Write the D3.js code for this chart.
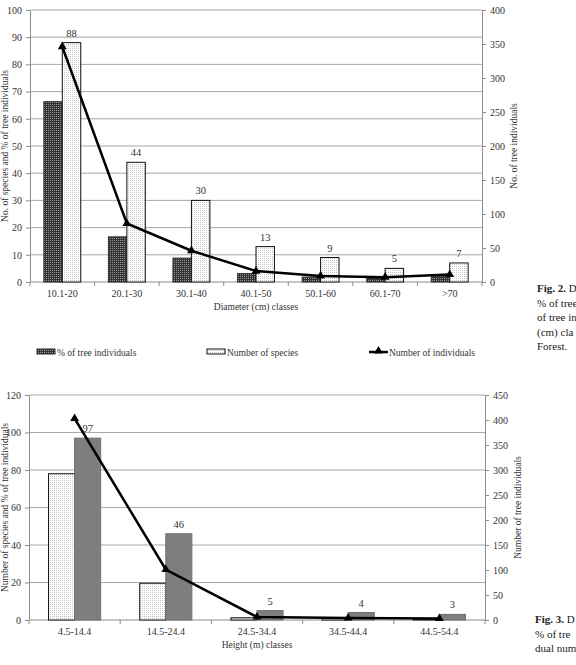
<!DOCTYPE html>
<html>
<head>
<meta charset="utf-8">
<script src="https://cdn.jsdelivr.net/npm/d3@7"></script>
<style>
  body { margin: 0; background: #fff; }
  svg { display: block; }
</style>
</head>
<body>
<div id="chart"></div>
<script>
// Fig. 2 - diameter classes
const diamClasses = ["10.1-20", "20.1-30", "30.1-40", "40.1-50", "50.1-60", "60.1-70", ">70"];
const diamPctTrees = [66.3, 16.6, 8.8, 3.1, 1.8, 1.3, 2.2];
const diamSpecies = [88, 44, 30, 13, 9, 5, 7];
const diamIndividuals = [346, 86, 46, 16, 9, 7, 11];
const diamLeftTicks = [0, 10, 20, 30, 40, 50, 60, 70, 80, 90, 100];
const diamRightTicks = [0, 50, 100, 150, 200, 250, 300, 350, 400];

// Fig. 3 - height classes
const heightClasses = ["4.5-14.4", "14.5-24.4", "24.5-34.4", "34.5-44.4", "44.5-54.4"];
const heightPctTrees = [78, 19.6, 1.2, 0.8, 0.6];
const heightSpecies = [97, 46, 5, 4, 3];
const heightIndividuals = [403, 101, 6, 4, 3];
const heightLeftTicks = [0, 20, 40, 60, 80, 100, 120];
const heightRightTicks = [0, 50, 100, 150, 200, 250, 300, 350, 400, 450];

const legendNames = ["% of tree individuals", "Number of species", "Number of individuals"];

const serif = "'Liberation Serif', 'DejaVu Serif', serif";

const svg = d3.select("#chart").append("svg")
    .attr("width", 576)
    .attr("height", 665);

// patterns for the bars
const defs = svg.append("defs");
const dark = defs.append("pattern").attr("id", "darkcheck")
    .attr("width", 2).attr("height", 2).attr("patternUnits", "userSpaceOnUse");
dark.append("rect").attr("width", 2).attr("height", 2).attr("fill", "#333");
dark.append("rect").attr("width", 1).attr("height", 1).attr("fill", "#9a9a9a");

const dots = defs.append("pattern").attr("id", "lightdots")
    .attr("width", 2).attr("height", 2).attr("patternUnits", "userSpaceOnUse");
dots.append("rect").attr("width", 2).attr("height", 2).attr("fill", "#fff");
dots.append("rect").attr("width", 1).attr("height", 1).attr("fill", "#c4c4c4");

const grey = "#8c8c8c";

function drawPanel(o) {
    const x = d3.scaleBand().domain(o.classes).range([o.left, o.right]);
    const xs = d3.scaleBand().domain([0, 1]).range([0, x.bandwidth()]).paddingOuter(0.75);
    const yL = d3.scaleLinear().domain([0, d3.max(o.leftTicks)]).range([o.bottom, o.top]);
    const yR = d3.scaleLinear().domain([0, d3.max(o.rightTicks)]).range([o.bottom, o.top]);

    const g = svg.append("g");

    // gridlines
    g.selectAll("line.grid")
        .data(o.leftTicks.filter(t => t > 0))
        .enter().append("line")
        .attr("x1", o.left).attr("x2", o.right)
        .attr("y1", d => yL(d)).attr("y2", d => yL(d))
        .attr("stroke", "#a8a8a8").attr("stroke-width", 1);

    // left axis
    const la = g.append("g")
        .attr("transform", `translate(${o.left},0)`)
        .call(d3.axisLeft(yL).tickValues(o.leftTicks).tickSize(4).tickSizeOuter(0).tickPadding(4));
    // right axis
    const ra = g.append("g")
        .attr("transform", `translate(${o.right},0)`)
        .call(d3.axisRight(yR).tickValues(o.rightTicks).tickSize(4).tickSizeOuter(0).tickPadding(4));
    // bottom axis, ticks between classes
    const bounds = o.classes.map(c => x(c)).concat([o.right]);
    g.append("line")
        .attr("x1", o.left).attr("x2", o.right)
        .attr("y1", o.bottom).attr("y2", o.bottom)
        .attr("stroke", grey);
    g.selectAll("line.xt")
        .data(bounds)
        .enter().append("line")
        .attr("x1", d => d).attr("x2", d => d)
        .attr("y1", o.bottom).attr("y2", o.bottom + 4)
        .attr("stroke", grey);
    g.selectAll("text.xl")
        .data(o.classes)
        .enter().append("text")
        .attr("x", d => x(d) + x.bandwidth() / 2)
        .attr("y", o.bottom + 15)
        .attr("text-anchor", "middle")
        .style("font-size", "10px")
        .style("fill", "#333")
        .text(d => d);

    [la, ra].forEach(a => {
        a.attr("font-family", null);
        a.select(".domain").attr("stroke", grey);
        a.selectAll(".tick line").attr("stroke", grey);
        a.selectAll(".tick text")
            .style("font-size", "10px")
            .style("fill", "#333");
    });

    // bars: % of trees (first), species (second)
    g.selectAll("rect.pct")
        .data(o.pct)
        .enter().append("rect")
        .attr("x", (d, i) => x(o.classes[i]) + xs(0))
        .attr("width", xs.bandwidth())
        .attr("y", d => yL(d))
        .attr("height", d => o.bottom - yL(d))
        .attr("fill", o.pctFill)
        .attr("stroke", o.pctStroke)
        .attr("stroke-width", 1);

    g.selectAll("rect.sp")
        .data(o.species)
        .enter().append("rect")
        .attr("x", (d, i) => x(o.classes[i]) + xs(1))
        .attr("width", xs.bandwidth())
        .attr("y", d => yL(d))
        .attr("height", d => o.bottom - yL(d))
        .attr("fill", o.spFill)
        .attr("stroke", o.spStroke)
        .attr("stroke-width", 1);

    // value labels over species bars
    g.selectAll("text.val")
        .data(o.species)
        .enter().append("text")
        .attr("x", (d, i) => x(o.classes[i]) + xs(1) + xs.bandwidth() / 2)
        .attr("y", d => yL(d) - 6)
        .attr("text-anchor", "middle")
        .style("font-size", "10.5px")
        .style("fill", "#333")
        .text(d => d);

    // individuals line
    const line = d3.line()
        .x((d, i) => x(o.classes[i]) + x.bandwidth() / 2)
        .y(d => yR(d));
    g.append("path")
        .datum(o.indiv)
        .attr("fill", "none")
        .attr("stroke", "#000")
        .attr("stroke-width", 2.5)
        .attr("d", line);
    g.selectAll("path.tri")
        .data(o.indiv)
        .enter().append("path")
        .attr("transform", (d, i) => `translate(${x(o.classes[i]) + x.bandwidth() / 2},${yR(d)})`)
        .attr("d", d3.symbol(d3.symbolTriangle, 34))
        .attr("fill", "#000");

    // axis titles
    g.append("text")
        .attr("x", (o.left + o.right) / 2)
        .attr("y", o.bottom + 28)
        .attr("text-anchor", "middle")
        .style("font-size", "9.5px")
        .style("fill", "#333")
        .text(o.xTitle);
    g.append("text")
        .attr("transform", `translate(8,${(o.top + o.bottom) / 2}) rotate(-90)`)
        .attr("text-anchor", "middle")
        .style("font-size", "9.5px")
        .style("fill", "#333")
        .text(o.leftTitle);
    g.append("text")
        .attr("transform", `translate(${o.rightTitleX},${(o.top + o.bottom) / 2}) rotate(-90)`)
        .attr("text-anchor", "middle")
        .style("font-size", "9.5px")
        .style("fill", "#333")
        .text(o.rightTitle);
}

drawPanel({
    classes: diamClasses, pct: diamPctTrees, species: diamSpecies, indiv: diamIndividuals,
    leftTicks: diamLeftTicks, rightTicks: diamRightTicks,
    left: 30, right: 482, top: 10, bottom: 282,
    pctFill: "url(#darkcheck)", pctStroke: "#333",
    spFill: "url(#lightdots)", spStroke: "#111",
    xTitle: "Diameter (cm) classes",
    leftTitle: "No. of species and % of tree individuals",
    rightTitle: "No. of tree individuals", rightTitleX: 517
});

drawPanel({
    classes: heightClasses, pct: heightPctTrees, species: heightSpecies, indiv: heightIndividuals,
    leftTicks: heightLeftTicks, rightTicks: heightRightTicks,
    left: 29, right: 485, top: 395, bottom: 620,
    pctFill: "url(#lightdots)", pctStroke: "#111",
    spFill: "#7e7e7e", spStroke: "#707070",
    xTitle: "Height (m) classes",
    leftTitle: "Number of species and % of tree individuals",
    rightTitle: "Number of tree individuals", rightTitleX: 521
});

// legend of Fig. 2
const legend = svg.append("g").style("font-size", "9.5px").style("fill", "#333");
legend.append("rect").attr("x", 37).attr("y", 349).attr("width", 18).attr("height", 5)
    .attr("fill", "url(#darkcheck)").attr("stroke", "#333");
legend.append("text").attr("x", 57).attr("y", 356).text(legendNames[0]);
legend.append("rect").attr("x", 207).attr("y", 349).attr("width", 18).attr("height", 5)
    .attr("fill", "url(#lightdots)").attr("stroke", "#111");
legend.append("text").attr("x", 227).attr("y", 356).text(legendNames[1]);
legend.append("line").attr("x1", 369).attr("x2", 388).attr("y1", 352).attr("y2", 352)
    .attr("stroke", "#000").attr("stroke-width", 2.5);
legend.append("path").attr("transform", "translate(378.5,351)")
    .attr("d", d3.symbol(d3.symbolTriangle, 34)).attr("fill", "#000");
legend.append("text").attr("x", 389).attr("y", 356).text(legendNames[2]);

// captions at the right, only the part visible on the page
function caption(lines, x, y0) {
    const t = svg.append("g").style("font-size", "11px").style("fill", "#222");
    lines.forEach((l, i) => {
        const tx = t.append("text").attr("x", x).attr("y", y0 + i * 14.5);
        if (i === 0) {
            tx.append("tspan").style("font-weight", "bold").text(l[0]);
            tx.append("tspan").text(l[1]);
        } else {
            tx.text(l);
        }
    });
}
caption([["Fig. 2. ", "D"], "% of tree", "of tree in", "(cm) cla", "Forest."], 537, 292);
caption([["Fig. 3. ", "D"], "% of tre", "dual num"], 535, 623);

// serif font everywhere
svg.selectAll("text").style("font-family", serif);
</script>
</body>
</html>
